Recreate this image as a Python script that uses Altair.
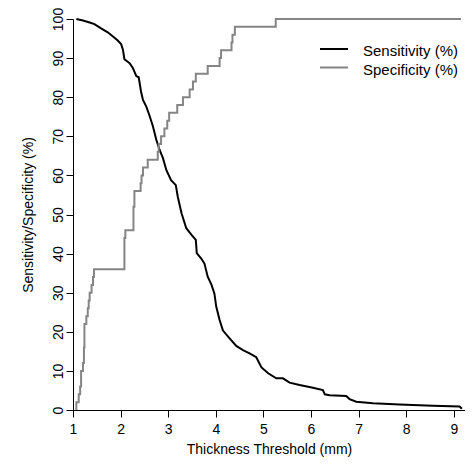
import altair as alt
import pandas as pd

# Sensitivity (%) curve
sens_x = [1.07, 1.21, 1.35, 1.45, 1.59, 1.73, 1.84, 1.94, 2.01, 2.05, 2.08, 2.19, 2.26,
          2.33, 2.38, 2.43, 2.47, 2.54, 2.61, 2.68, 2.75, 2.82, 2.89, 2.96, 3.06, 3.16,
          3.20, 3.28, 3.38, 3.49, 3.58, 3.60, 3.69, 3.76, 3.83, 3.91, 3.97, 4.01, 4.08,
          4.15, 4.29, 4.43, 4.57, 4.71, 4.85, 4.96, 5.10, 5.27, 5.41, 5.55, 5.76, 6.04,
          6.25, 6.29, 6.39, 6.74, 6.81, 6.95, 7.30, 7.86, 8.56, 9.12, 9.17]
sens_y = [100.0, 99.6, 99.1, 98.7, 97.6, 96.6, 95.5, 94.5, 93.6, 92.1, 89.7, 88.7, 87.4,
          85.4, 85.1, 81.4, 79.3, 77.6, 75.2, 72.5, 69.1, 66.5, 64.4, 61.4, 58.8, 57.5,
          54.6, 50.3, 46.5, 44.8, 43.5, 40.1, 38.8, 37.5, 34.1, 32.0, 29.8, 26.4, 23.0,
          20.3, 18.3, 16.4, 15.3, 14.5, 13.5, 10.9, 9.4, 8.1, 8.1, 7.0, 6.4, 5.7,
          5.1, 4.0, 3.8, 3.6, 2.8, 2.1, 1.7, 1.4, 1.1, 0.9, 0.3]

# Specificity (%) step curve
spec_x = [1.07, 1.07, 1.12, 1.15, 1.17, 1.21, 1.23, 1.24, 1.28, 1.31, 1.33, 1.35, 1.39,
          1.42, 1.44, 2.08, 2.10, 2.27, 2.29, 2.42, 2.44, 2.47, 2.57, 2.78, 2.80, 2.85,
          2.92, 2.98, 3.02, 3.19, 3.31, 3.45, 3.52, 3.58, 3.83, 4.08, 4.11, 4.33, 4.35,
          4.40, 5.26, 9.15]
spec_y = [0, 2, 4, 6, 10, 12, 16, 22, 24, 26, 28, 30, 32,
          34, 36, 44, 46, 52, 56, 58, 60, 62, 64, 66, 68, 70,
          72, 74, 76, 78, 80, 82, 84, 86, 88, 90, 92, 94, 96,
          98, 100, 100]

x_ticks = [1, 2, 3, 4, 5, 6, 7, 8, 9]
y_ticks = [0, 10, 20, 30, 40, 50, 60, 70, 80, 90, 100]
legend_labels = ["Sensitivity (%)", "Specificity (%)"]

FONT = "Liberation Sans"

sens_df = pd.DataFrame({"threshold": sens_x, "value": sens_y})
spec_df = pd.DataFrame({"threshold": spec_x, "value": spec_y})

x_scale = alt.Scale(domain=[1, 9.235], nice=False, zero=False)
y_scale = alt.Scale(domain=[0, 100], nice=False, zero=False)

common_axis = dict(grid=False, tickSize=7, tickColor="black", domainColor="black",
                   labelColor="black", titleColor="black", labelFont=FONT, titleFont=FONT,
                   labelFontSize=14, titleFontSize=14, titleFontWeight="normal",
                   labelFlush=False, labelOverlap=False, tickWidth=1, domainWidth=1)

x_enc = alt.X("threshold:Q", scale=x_scale,
              axis=alt.Axis(values=x_ticks, format="d", title="Thickness Threshold (mm)",
                            labelPadding=5, titlePadding=6, **common_axis))
y_enc = alt.Y("value:Q", scale=y_scale,
              axis=alt.Axis(values=y_ticks, format="d", title="Sensitivity/Specificity (%)",
                            labelAngle=270, labelAlign="center", labelBaseline="bottom",
                            labelPadding=1, titlePadding=16, **common_axis))

sens_line = alt.Chart(sens_df).mark_line(color="black", strokeWidth=2).encode(x=x_enc, y=y_enc)
spec_line = alt.Chart(spec_df).mark_line(color="#858585", strokeWidth=2,
                                         interpolate="step-after").encode(x=x_enc, y=y_enc)

one = pd.DataFrame({"k": [0]})
leg_rule1 = alt.Chart(one).mark_rule(color="black", strokeWidth=2).encode(
    x=alt.value(247), x2=alt.value(275), y=alt.value(30))
leg_rule2 = alt.Chart(one).mark_rule(color="#858585", strokeWidth=2).encode(
    x=alt.value(247), x2=alt.value(275), y=alt.value(48.5))
leg_text1 = alt.Chart(one).mark_text(align="left", baseline="middle", font=FONT,
                                     fontSize=15, color="black").encode(
    x=alt.value(290), y=alt.value(31.5), text=alt.value(legend_labels[0]))
leg_text2 = alt.Chart(one).mark_text(align="left", baseline="middle", font=FONT,
                                     fontSize=15, color="black").encode(
    x=alt.value(290), y=alt.value(50.5), text=alt.value(legend_labels[1]))

chart = alt.layer(sens_line, spec_line, leg_rule1, leg_rule2, leg_text1, leg_text2).properties(
    width=392, height=391,
    padding={"left": 65, "top": 11, "right": 0, "bottom": 48},
    autosize=alt.AutoSizeParams(type="none"),
).configure(background="white").configure_view(strokeWidth=0, stroke="transparent")

chart.save("out.html", embed_options={"renderer": "svg", "actions": False})
